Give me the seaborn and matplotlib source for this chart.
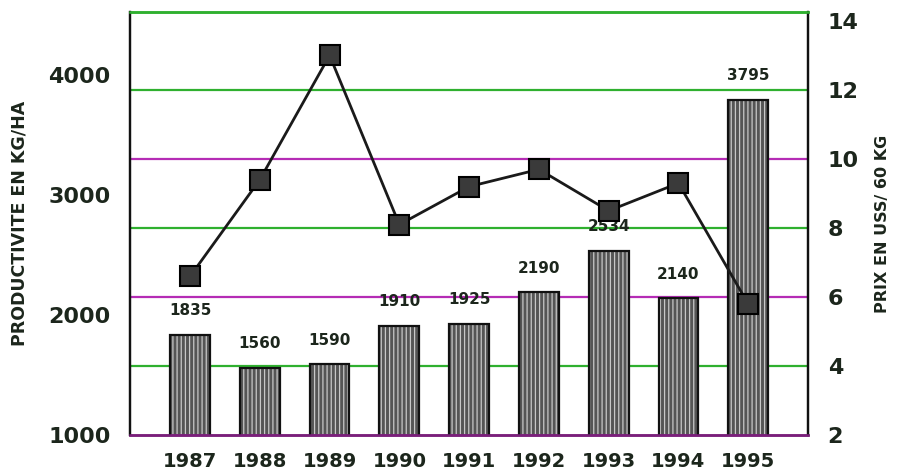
import numpy as np
import pandas as pd
import matplotlib
matplotlib.use('Agg')
import matplotlib.pyplot as plt
import seaborn as sns

# data
annees = ['1987', '1988', '1989', '1990', '1991', '1992', '1993', '1994', '1995']
productivite = [1835, 1560, 1590, 1910, 1925, 2190, 2534, 2140, 3795]
prix = [6.6, 9.4, 13.0, 8.1, 9.2, 9.7, 8.5, 9.3, 5.8]
prix_ticks = [2, 4, 6, 8, 10, 12, 14]
prod_ticks = [1000, 2000, 3000, 4000]


def main():
    sns.set_style('white')
    plt.rcParams['font.family'] = ['DejaVu Sans']
    plt.rcParams['font.weight'] = 'bold'
    plt.rcParams['hatch.linewidth'] = 0.9

    txt = '#1c261c'
    vert = '#2fb02f'
    magenta = '#b52cb5'

    df = pd.DataFrame({'annee': annees, 'prod': productivite, 'prix': prix})

    fig = plt.figure(figsize=(8.97, 4.70), dpi=100)
    ax = fig.add_axes([0.145, 0.074, 0.756, 0.9])

    # left axis in kg/ha, right axis in US$ ; both scaled so that the grid matches
    k = 287.5
    r_lim = (2, 14.25)
    ax.set_ylim(1000, 1000 + (r_lim[1] - r_lim[0]) * k)

    # coloured grid lines (right axis values) behind the bars
    for i, r in enumerate(prix_ticks[1:-1]):
        ax.axhline(1000 + (r - 2) * k, color=[vert, magenta][i % 2], lw=1.6, zorder=0)

    sns.barplot(data=df, x='annee', y='prod', ax=ax, width=0.57, color='#555555',
                edgecolor='#c8c8c8', linewidth=0, hatch='||||', zorder=2)
    sns.barplot(data=df, x='annee', y='prod', ax=ax, width=0.57, fill=False,
                edgecolor='#111111', linewidth=1.6, zorder=3)
    ax.bar_label(ax.containers[0], labels=[str(v) for v in productivite], padding=12,
                 fontsize=11, fontweight='bold', color=txt)

    ax.set_xlim(-0.86, 8.86)
    ax.set_yticks(prod_ticks)
    ax.set_yticklabels([str(t) for t in prod_ticks], fontsize=16, fontweight='bold', color=txt)
    ax.set_xticks(range(len(annees)))
    ax.set_xticklabels(annees, fontsize=14, fontweight='bold', color=txt)
    ax.set_xticks(np.arange(0.5, 8, 1), minor=True)
    ax.tick_params(axis='x', which='major', length=0, pad=12)
    ax.tick_params(axis='x', which='minor', direction='inout', length=14, width=1.4, color='#222222')
    ax.tick_params(axis='y', length=0, pad=14)
    ax.set_xlabel('')
    ax.set_ylabel('PRODUCTIVITE EN KG/HA', fontsize=12.5, fontweight='bold', color=txt, labelpad=14)

    ax2 = ax.twinx()
    ax2.set_ylim(*r_lim)
    sns.pointplot(data=df, x='annee', y='prix', ax=ax2, color='#1a1a1a', markers='s',
                  markersize=15, linewidth=2, markeredgecolor='#000000', zorder=5)
    for line in ax2.lines:
        line.set_markerfacecolor('#3a3a3a')
    ax2.set_xlim(-0.86, 8.86)
    ax2.set_yticks(prix_ticks)
    ax2.set_yticklabels([str(t) for t in prix_ticks], fontsize=16, fontweight='bold', color=txt)
    ax2.tick_params(axis='y', length=0, pad=14)
    ax2.set_xlabel('')
    ax2.set_ylabel('PRIX EN USS/ 60 KG', fontsize=11.5, fontweight='bold', color=txt, labelpad=12)

    for a in (ax, ax2):
        a.spines['left'].set_color('#111111')
        a.spines['left'].set_linewidth(1.6)
        a.spines['right'].set_color('#111111')
        a.spines['right'].set_linewidth(1.6)
        a.spines['bottom'].set_color('#7a1f7a')
        a.spines['bottom'].set_linewidth(1.8)
        a.spines['top'].set_color(vert)
        a.spines['top'].set_linewidth(1.8)

    fig.savefig('out.png', dpi=100)
    plt.close(fig)


if __name__ == '__main__':
    main()
